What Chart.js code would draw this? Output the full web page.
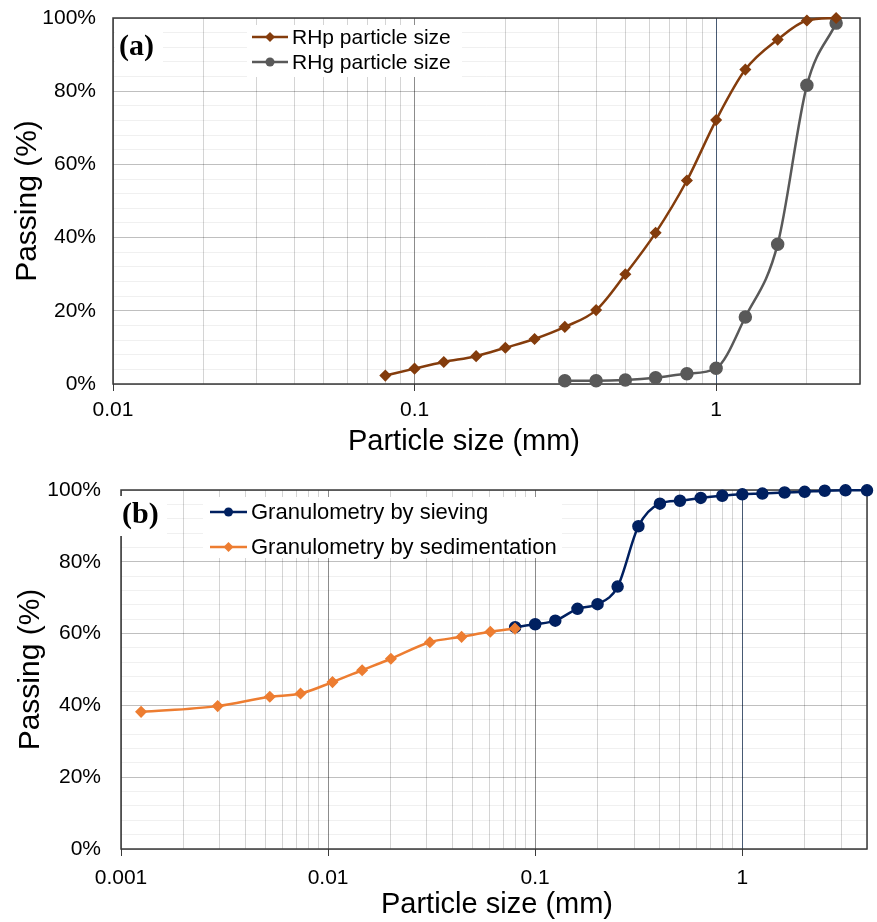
<!DOCTYPE html>
<html>
<head>
<meta charset="utf-8">
<script src="https://cdn.jsdelivr.net/npm/chart.js@4.4.1/dist/chart.umd.min.js"></script>
<style>
  body { margin: 0; background: #fff; }
  #wrap { position: relative; width: 877px; height: 922px; }
  canvas { position: absolute; left: 0; }
  #chartA { top: 0; }
  #chartB { top: 460px; }
</style>
</head>
<body>
<div id="wrap">
  <canvas id="chartA" width="877" height="460"></canvas>
  <canvas id="chartB" width="877" height="462"></canvas>
</div>
<script>
'use strict';

// (a) rice husk particle size
var rhpSize = [0.08, 0.1, 0.125, 0.16, 0.2, 0.25, 0.315, 0.4, 0.5, 0.63, 0.8, 1, 1.25, 1.6, 2, 2.5];
var rhpPassing = [2.3, 4.2, 6.0, 7.6, 9.9, 12.3, 15.6, 20.2, 30.0, 41.3, 55.6, 72.1, 85.9, 94.1, 99.3, 100];
var rhgSize = [0.315, 0.4, 0.5, 0.63, 0.8, 1, 1.25, 1.6, 2, 2.5];
var rhgPassing = [0.9, 0.9, 1.1, 1.7, 2.8, 4.3, 18.3, 38.2, 81.6, 98.6];

// (b) soil granulometry
var sieveSize = [0.08, 0.1, 0.125, 0.16, 0.2, 0.25, 0.315, 0.4, 0.5, 0.63, 0.8, 1, 1.25, 1.6, 2, 2.5, 3.15, 4];
var sievePassing = [61.8, 62.6, 63.6, 66.9, 68.2, 73.1, 89.9, 96.2, 97.0, 97.8, 98.4, 98.8, 99.0, 99.3, 99.5, 99.8, 99.9, 99.9];
var sedSize = [0.00125, 0.00293, 0.00523, 0.00736, 0.0105, 0.0146, 0.0201, 0.031, 0.0441, 0.0607, 0.0798];
var sedPassing = [38.2, 39.8, 42.4, 43.3, 46.5, 49.8, 53.0, 57.6, 59.1, 60.5, 61.4];

// log axis grid lines (1..9 per decade)
var xTicksA = [0.01, 0.02, 0.03, 0.04, 0.05, 0.06, 0.07, 0.08, 0.09,
  0.1, 0.2, 0.3, 0.4, 0.5, 0.6, 0.7, 0.8, 0.9, 1, 2, 3];
var xTicksB = [0.001, 0.002, 0.003, 0.004, 0.005, 0.006, 0.007, 0.008, 0.009,
  0.01, 0.02, 0.03, 0.04, 0.05, 0.06, 0.07, 0.08, 0.09,
  0.1, 0.2, 0.3, 0.4, 0.5, 0.6, 0.7, 0.8, 0.9, 1, 2, 3, 4];

var xTitle = 'Particle size (mm)';
var yTitle = 'Passing (%)';

Chart.defaults.font.family = "'Liberation Sans', Arial, sans-serif";
Chart.defaults.color = '#000';

function toPoints(xs, ys) {
  return xs.map(function (x, i) { return { x: x, y: ys[i] }; });
}

function isDecade(v) {
  var l = Math.log10(v);
  return Math.abs(l - Math.round(l)) < 1e-9;
}

function series(label, xs, ys, color, style, radius, order) {
  return {
    label: label,
    data: toPoints(xs, ys),
    showLine: true,
    borderColor: color,
    backgroundColor: color,
    borderWidth: 2.5,
    cubicInterpolationMode: 'monotone',
    pointStyle: style,
    pointRadius: radius,
    pointBorderWidth: 1.5,
    pointBackgroundColor: color,
    pointBorderColor: color,
    clip: false,
    order: order
  };
}

// frame round the plot area
var framePlugin = {
  id: 'frame',
  beforeDatasetsDraw: function (chart) {
    var a = chart.chartArea, ctx = chart.ctx;
    ctx.save();
    ctx.strokeStyle = '#3a3a3a';
    ctx.lineWidth = 1.5;
    ctx.strokeRect(a.left, a.top, a.right - a.left, a.bottom - a.top);
    ctx.restore();
  }
};

function drawMarker(ctx, style, x, y, r) {
  ctx.beginPath();
  if (style === 'circle') {
    ctx.arc(x, y, r, 0, Math.PI * 2);
  } else {
    ctx.moveTo(x - r, y);
    ctx.lineTo(x, y - r);
    ctx.lineTo(x + r, y);
    ctx.lineTo(x, y + r);
    ctx.closePath();
  }
  ctx.fill();
}

// panel letter, x title and legend box
var boxPlugin = {
  id: 'box',
  afterDraw: function (chart, args, o) {
    var ctx = chart.ctx;
    ctx.save();
    ctx.fillStyle = '#fff';
    ctx.fillRect(o.tagBox[0], o.tagBox[1], o.tagBox[2], o.tagBox[3]);
    ctx.fillRect(o.legBox[0], o.legBox[1], o.legBox[2], o.legBox[3]);
    ctx.fillStyle = '#000';
    ctx.font = "bold 30px 'Liberation Serif', 'Times New Roman', serif";
    ctx.textBaseline = 'middle';
    ctx.fillText(o.tag, o.tagX, o.tagY);

    // x axis title (Excel puts it off the plot centre)
    ctx.font = "29px 'Liberation Sans', Arial, sans-serif";
    ctx.textAlign = 'center';
    ctx.fillText(xTitle, o.titleX, o.titleY);
    ctx.textAlign = 'left';

    ctx.font = o.legFont + "px 'Liberation Sans', Arial, sans-serif";
    o.items.forEach(function (idx, k) {
      var ds = chart.data.datasets[idx];
      var y = o.legY[k];
      ctx.strokeStyle = ds.borderColor;
      ctx.lineWidth = 2.5;
      ctx.beginPath();
      ctx.moveTo(o.lineX[0], y);
      ctx.lineTo(o.lineX[1], y);
      ctx.stroke();
      ctx.fillStyle = ds.borderColor;
      drawMarker(ctx, ds.pointStyle, (o.lineX[0] + o.lineX[1]) / 2, y, ds.pointStyle === 'circle' ? 4.5 : 5);
      ctx.fillStyle = '#000';
      ctx.fillText(ds.label, o.textX, y + 1);
    });
    ctx.restore();
  }
};

function makePanel(canvasId, p) {
  return new Chart(document.getElementById(canvasId), {
    type: 'scatter',
    data: { datasets: p.datasets },
    options: {
      responsive: false,
      animation: false,
      devicePixelRatio: 1,
      layout: { padding: p.padding },
      plugins: {
        legend: { display: false },
        tooltip: { enabled: false },
        box: p.box
      },
      scales: {
        x: {
          type: 'logarithmic',
          min: p.xMin,
          max: p.xMax,
          afterBuildTicks: function (axis) {
            axis.ticks = p.xTicks.map(function (v) { return { value: v }; });
          },
          afterFit: function (axis) { axis.height = p.xHeight; },
          border: { display: false },
          grid: {
            color: function (c) {
              var v = c.tick.value;
              if (isDecade(v)) return Math.abs(v - 1) < 1e-9 ? 'rgba(52,72,100,0.9)' : 'rgba(0,0,0,0.45)';
              return 'rgba(0,0,0,0.17)';
            },
            tickColor: function (c) {
              return isDecade(c.tick.value) ? '#3a3a3a' : 'rgba(0,0,0,0)';
            },
            tickLength: 7
          },
          ticks: {
            autoSkip: false,
            maxRotation: 0,
            padding: p.xTickPad,
            font: { size: 21 },
            callback: function (v) {
              return isDecade(v) ? String(Number(v.toPrecision(1))) : '';
            }
          }
        },
        y: {
          min: 0,
          max: 100,
          afterFit: function (axis) {
            axis.width = p.yWidth;
            axis.paddingTop = 0;
            axis.paddingBottom = 0;
          },
          border: { display: false },
          grid: {
            drawTicks: false,
            color: function (c) {
              return c.tick.value % 20 === 0 ? 'rgba(0,0,0,0.25)' : 'rgba(0,0,0,0.06)';
            }
          },
          ticks: {
            stepSize: 4,
            autoSkip: false,
            padding: p.yTickPad,
            font: { size: 21 },
            callback: function (v) { return v % 20 === 0 ? v + '%' : ''; }
          },
          title: {
            display: true,
            text: yTitle,
            font: { size: 30 },
            padding: { top: p.yTitlePad, bottom: 0 }
          }
        }
      }
    },
    plugins: [framePlugin, boxPlugin]
  });
}

makePanel('chartA', {
  datasets: [
    series('RHp particle size', rhpSize, rhpPassing, '#843c0c', 'rectRot', 5, 0),
    series('RHg particle size', rhgSize, rhgPassing, '#595959', 'circle', 6, 1)
  ],
  padding: { top: 18, right: 17, left: 0, bottom: 0 },
  xMin: 0.01, xMax: 3, xTicks: xTicksA,
  xHeight: 76, yWidth: 113,
  xTickPad: 7, yTickPad: 17, yTitlePad: 10,
  box: {
    tag: '(a)', tagX: 119, tagY: 47, tagBox: [115, 27, 48, 42],
    legBox: [247, 25, 215, 52], items: [0, 1], legY: [37, 62],
    lineX: [252, 288], textX: 292, legFont: 21,
    titleX: 464, titleY: 442
  }
});

makePanel('chartB', {
  datasets: [
    series('Granulometry by sieving', sieveSize, sievePassing, '#002060', 'circle', 5.5, 1),
    series('Granulometry by sedimentation', sedSize, sedPassing, '#ed7d31', 'rectRot', 5, 0)
  ],
  padding: { top: 30, right: 7, left: 0, bottom: 0 },
  xMin: 0.001, xMax: 4, xTicks: xTicksB,
  xHeight: 73, yWidth: 121,
  xTickPad: 10, yTickPad: 20, yTitlePad: 13,
  box: {
    tag: '(b)', tagX: 122, tagY: 55, tagBox: [117, 36, 50, 40],
    legBox: [203, 37, 359, 61], items: [0, 1], legY: [52, 87],
    lineX: [210, 247], textX: 251, legFont: 22,
    titleX: 497, titleY: 445
  }
});
</script>
</body>
</html>
